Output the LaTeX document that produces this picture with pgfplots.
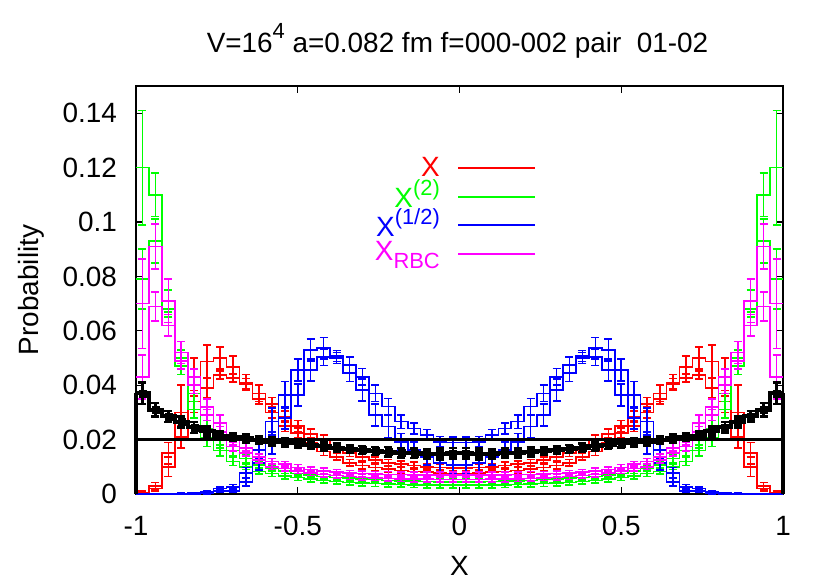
\documentclass[border=0pt]{standalone}
\usepackage{pgfplots}
\pgfplotsset{compat=1.18}
\usepackage{pgfplotstable}
\usepackage{fontspec}
\setmainfont{Liberation Sans}

\definecolor{gpred}{RGB}{255,0,0}
\definecolor{gpgreen}{RGB}{0,255,0}
\definecolor{gpblue}{RGB}{0,0,255}
\definecolor{gpmag}{RGB}{255,0,255}

% x = left edge of the bin, a/b = the two histograms, ea/eb = errors
\pgfplotstableread{
x a ea b eb
-1.00 0.0005 0.0005 0.0002 0.0003
-0.96 0.003 0.0012 0.002 0.001
-0.92 0.015 0.004 0.010 0.0035
-0.88 0.030 0.010 0.021 0.004
-0.84 0.043 0.007 0.034 0.004
-0.80 0.0487 0.006 0.039 0.0035
-0.76 0.050 0.004 0.0437 0.0015
-0.72 0.0468 0.004 0.0426 0.0015
-0.68 0.041 0.003 0.0405 0.002
-0.64 0.037 0.003 0.035 0.002
-0.60 0.033 0.0025 0.030 0.002
-0.56 0.0285 0.002 0.025 0.002
-0.52 0.025 0.002 0.0224 0.0018
-0.48 0.022 0.002 0.019 0.0015
-0.44 0.020 0.0018 0.0156 0.0015
-0.40 0.0175 0.0015 0.0137 0.0012
-0.36 0.015 0.0012 0.0115 0.0012
-0.32 0.0135 0.0012 0.0105 0.0012
-0.28 0.0125 0.0012 0.0098 0.0012
-0.24 0.0115 0.0012 0.0092 0.0012
-0.20 0.011 0.0012 0.0087 0.0012
-0.16 0.0105 0.0012 0.0083 0.0012
-0.12 0.010 0.0012 0.0080 0.0012
-0.08 0.0097 0.0012 0.0077 0.0012
-0.04 0.0095 0.0012 0.0075 0.0012
0.00 0.0095 0.0012 0.0075 0.0012
0.04 0.0097 0.0012 0.0077 0.0012
0.08 0.010 0.0012 0.0080 0.0012
0.12 0.0105 0.0012 0.0083 0.0012
0.16 0.011 0.0012 0.0087 0.0012
0.20 0.0115 0.0012 0.0092 0.0012
0.24 0.0125 0.0012 0.0098 0.0012
0.28 0.0135 0.0012 0.0105 0.0012
0.32 0.015 0.0012 0.0115 0.0012
0.36 0.0175 0.0015 0.0137 0.0012
0.40 0.020 0.0018 0.0156 0.0015
0.44 0.022 0.002 0.019 0.0015
0.48 0.025 0.002 0.0224 0.0018
0.52 0.0285 0.002 0.025 0.002
0.56 0.033 0.0025 0.030 0.002
0.60 0.037 0.003 0.035 0.002
0.64 0.041 0.003 0.0405 0.002
0.68 0.0468 0.004 0.0426 0.0015
0.72 0.050 0.004 0.0437 0.0015
0.76 0.0487 0.006 0.039 0.0035
0.80 0.043 0.007 0.034 0.004
0.84 0.030 0.010 0.021 0.004
0.88 0.015 0.004 0.010 0.0035
0.92 0.003 0.0012 0.002 0.001
0.96 0.0005 0.0005 0.0002 0.0003
1.00 0.0005 0.0005 0.0002 0.0003
}\redtab

\pgfplotstableread{
x a ea b eb
-1.00 0.120 0.021 0.079 0.011
-0.96 0.110 0.008 0.093 0.008
-0.92 0.071 0.004 0.068 0.003
-0.88 0.050 0.003 0.047 0.003
-0.84 0.037 0.003 0.031 0.003
-0.80 0.024 0.003 0.0205 0.003
-0.76 0.020 0.003 0.016 0.002
-0.72 0.016 0.002 0.012 0.0015
-0.68 0.013 0.0015 0.010 0.001
-0.64 0.0107 0.001 0.0083 0.001
-0.60 0.0095 0.001 0.0075 0.001
-0.56 0.0085 0.001 0.0066 0.001
-0.52 0.0075 0.001 0.0060 0.001
-0.48 0.0070 0.001 0.0055 0.001
-0.44 0.0065 0.001 0.0050 0.001
-0.40 0.0060 0.001 0.0046 0.001
-0.36 0.0058 0.001 0.0043 0.001
-0.32 0.0055 0.001 0.0040 0.001
-0.28 0.0053 0.001 0.0038 0.001
-0.24 0.0050 0.001 0.0036 0.001
-0.20 0.0048 0.001 0.0035 0.001
-0.16 0.0047 0.001 0.0034 0.001
-0.12 0.0046 0.001 0.0033 0.001
-0.08 0.0045 0.001 0.0032 0.001
-0.04 0.0045 0.001 0.0032 0.001
0.00 0.0045 0.001 0.0032 0.001
0.04 0.0045 0.001 0.0032 0.001
0.08 0.0046 0.001 0.0033 0.001
0.12 0.0047 0.001 0.0034 0.001
0.16 0.0048 0.001 0.0035 0.001
0.20 0.0050 0.001 0.0036 0.001
0.24 0.0053 0.001 0.0038 0.001
0.28 0.0055 0.001 0.0040 0.001
0.32 0.0058 0.001 0.0043 0.001
0.36 0.0060 0.001 0.0046 0.001
0.40 0.0065 0.001 0.0050 0.001
0.44 0.0070 0.001 0.0055 0.001
0.48 0.0075 0.001 0.0060 0.001
0.52 0.0085 0.001 0.0066 0.001
0.56 0.0095 0.001 0.0075 0.001
0.60 0.0107 0.001 0.0083 0.001
0.64 0.013 0.0015 0.010 0.001
0.68 0.016 0.002 0.012 0.0015
0.72 0.020 0.003 0.016 0.002
0.76 0.024 0.003 0.0205 0.003
0.80 0.037 0.003 0.031 0.003
0.84 0.050 0.003 0.047 0.003
0.88 0.071 0.004 0.068 0.003
0.92 0.110 0.008 0.093 0.008
0.96 0.120 0.021 0.079 0.011
1.00 0.120 0.021 0.079 0.011
}\greentab

\pgfplotstableread{
x a ea b eb
-1.00 0 0 0 0
-0.96 0 0 0 0
-0.92 0 0 0 0
-0.88 0.0002 0.0001 0 0
-0.84 0.0003 0.0002 0.0001 0.0001
-0.80 0.0008 0.0003 0.0003 0.0002
-0.76 0.002 0.0006 0.001 0.0004
-0.72 0.0025 0.001 0.0012 0.0006
-0.68 0.0077 0.002 0.0045 0.0015
-0.64 0.0162 0.003 0.0113 0.0025
-0.60 0.0266 0.005 0.0187 0.004
-0.56 0.0364 0.005 0.028 0.004
-0.52 0.0456 0.004 0.0364 0.004
-0.48 0.053 0.004 0.0456 0.004
-0.44 0.0536 0.004 0.0503 0.003
-0.40 0.0507 0.002 0.050 0.002
-0.36 0.0474 0.003 0.0444 0.003
-0.32 0.0431 0.003 0.0382 0.004
-0.28 0.037 0.003 0.029 0.004
-0.24 0.0321 0.003 0.0248 0.004
-0.20 0.0266 0.0025 0.0192 0.003
-0.16 0.0241 0.002 0.0162 0.003
-0.12 0.0217 0.002 0.0137 0.003
-0.08 0.0192 0.002 0.0113 0.003
-0.04 0.019 0.002 0.0107 0.003
0.00 0.019 0.002 0.0107 0.003
0.04 0.0192 0.002 0.0113 0.003
0.08 0.0217 0.002 0.0137 0.003
0.12 0.0241 0.002 0.0162 0.003
0.16 0.0266 0.0025 0.0192 0.003
0.20 0.0321 0.003 0.0248 0.004
0.24 0.037 0.003 0.029 0.004
0.28 0.0431 0.003 0.0382 0.004
0.32 0.0474 0.003 0.0444 0.003
0.36 0.0507 0.002 0.050 0.002
0.40 0.0536 0.004 0.0503 0.003
0.44 0.053 0.004 0.0456 0.004
0.48 0.0456 0.004 0.0364 0.004
0.52 0.0364 0.005 0.028 0.004
0.56 0.0266 0.005 0.0187 0.004
0.60 0.0162 0.003 0.0113 0.0025
0.64 0.0077 0.002 0.0045 0.0015
0.68 0.0025 0.001 0.0012 0.0006
0.72 0.002 0.0006 0.001 0.0004
0.76 0.0008 0.0003 0.0003 0.0002
0.80 0.0003 0.0002 0.0001 0.0001
0.84 0.0002 0.0001 0 0
0.88 0 0 0 0
0.92 0 0 0 0
0.96 0 0 0 0
1.00 0 0 0 0
}\bluetab

\pgfplotstableread{
x a ea b eb
-1.00 0.070 0.0165 0.043 0.008
-0.96 0.091 0.0083 0.069 0.0053
-0.92 0.071 0.008 0.062 0.004
-0.88 0.052 0.004 0.049 0.003
-0.84 0.043 0.003 0.040 0.003
-0.80 0.032 0.003 0.029 0.002
-0.76 0.026 0.003 0.0228 0.002
-0.72 0.020 0.002 0.0174 0.0015
-0.68 0.017 0.0015 0.015 0.001
-0.64 0.0137 0.001 0.0125 0.001
-0.60 0.012 0.001 0.010 0.001
-0.56 0.011 0.001 0.0094 0.001
-0.52 0.0098 0.001 0.0085 0.001
-0.48 0.009 0.001 0.0078 0.001
-0.44 0.0085 0.001 0.0072 0.001
-0.40 0.008 0.001 0.0068 0.001
-0.36 0.0077 0.001 0.0064 0.001
-0.32 0.0075 0.001 0.0061 0.001
-0.28 0.0073 0.001 0.0059 0.001
-0.24 0.0072 0.001 0.0057 0.001
-0.20 0.0071 0.001 0.0056 0.001
-0.16 0.0070 0.001 0.0055 0.001
-0.12 0.0070 0.001 0.0055 0.001
-0.08 0.0070 0.001 0.0054 0.001
-0.04 0.0070 0.001 0.0054 0.001
0.00 0.0070 0.001 0.0054 0.001
0.04 0.0070 0.001 0.0054 0.001
0.08 0.0070 0.001 0.0055 0.001
0.12 0.0070 0.001 0.0055 0.001
0.16 0.0071 0.001 0.0056 0.001
0.20 0.0072 0.001 0.0057 0.001
0.24 0.0073 0.001 0.0059 0.001
0.28 0.0075 0.001 0.0061 0.001
0.32 0.0077 0.001 0.0064 0.001
0.36 0.008 0.001 0.0068 0.001
0.40 0.0085 0.001 0.0072 0.001
0.44 0.009 0.001 0.0078 0.001
0.48 0.0098 0.001 0.0085 0.001
0.52 0.011 0.001 0.0094 0.001
0.56 0.012 0.001 0.010 0.001
0.60 0.0137 0.001 0.0125 0.001
0.64 0.017 0.0015 0.015 0.001
0.68 0.020 0.002 0.0174 0.0015
0.72 0.026 0.003 0.0228 0.002
0.76 0.032 0.003 0.029 0.002
0.80 0.043 0.003 0.040 0.003
0.84 0.052 0.004 0.049 0.003
0.88 0.071 0.008 0.062 0.004
0.92 0.091 0.0083 0.069 0.0053
0.96 0.070 0.0165 0.043 0.008
1.00 0.070 0.0165 0.043 0.008
}\magtab

\pgfplotstableread{
x y e
-1.00 0.037 0.004
-0.96 0.031 0.0025
-0.92 0.0285 0.002
-0.88 0.0265 0.002
-0.84 0.0245 0.002
-0.80 0.023 0.0018
-0.76 0.0215 0.0015
-0.72 0.021 0.0015
-0.68 0.0205 0.0015
-0.64 0.0198 0.0015
-0.60 0.0193 0.0015
-0.56 0.019 0.0015
-0.52 0.0186 0.0015
-0.48 0.018 0.0015
-0.44 0.0175 0.0015
-0.40 0.017 0.0015
-0.36 0.0165 0.0015
-0.32 0.0162 0.0015
-0.28 0.0158 0.0015
-0.24 0.0155 0.0018
-0.20 0.0152 0.0018
-0.16 0.015 0.0018
-0.12 0.0148 0.0018
-0.08 0.0147 0.002
-0.04 0.015 0.002
0.00 0.015 0.002
0.04 0.0147 0.002
0.08 0.0148 0.0018
0.12 0.015 0.0018
0.16 0.0152 0.0018
0.20 0.0155 0.0018
0.24 0.0158 0.0015
0.28 0.0162 0.0015
0.32 0.0165 0.0015
0.36 0.017 0.0015
0.40 0.0175 0.0015
0.44 0.018 0.0015
0.48 0.0186 0.0015
0.52 0.019 0.0015
0.56 0.0193 0.0015
0.60 0.0198 0.0015
0.64 0.0205 0.0015
0.68 0.021 0.0015
0.72 0.0215 0.0015
0.76 0.023 0.0018
0.80 0.0245 0.002
0.84 0.0265 0.002
0.88 0.0285 0.002
0.92 0.031 0.0025
0.96 0.037 0.004
1.00 0.037 0.004
}\blacktab

\pgfplotsset{
  hist/.style={#1, line width=1.6bp, const plot mark left, forget plot},
  errs/.style={draw=none, mark=none, forget plot,
    restrict x to domain=-1:0.99,
    error bars/.cd, y dir=both, y explicit, error mark=|,
    error bar style={draw=#1, line width=1.6bp, solid},
    error mark options={draw=#1, line width=1.6bp, mark size=4bp}},
}

\begin{document}
\fontsize{28}{34}\selectfont
\begin{tikzpicture}
\begin{axis}[
  at={(0,0)}, anchor=south west,
  scale only axis, width=647bp, height=408bp,
  clip=false,
  xmin=-1, xmax=1, ymin=0, ymax=0.15,
  xtick={-1,-0.5,0,0.5,1},
  ytick={0,0.02,0.04,0.06,0.08,0.1,0.12,0.14},
  scaled y ticks=false, scaled x ticks=false,
  /pgf/number format/assume math mode=true,
  yticklabel style={/pgf/number format/fixed, /pgf/number format/precision=2,
    anchor=east, inner sep=0pt, xshift=-19bp},
  xticklabel style={/pgf/number format/fixed, anchor=north, inner sep=0pt, yshift=-22bp},
  tick align=inside, major tick length=7bp,
  axis line style={line width=1.2bp},
  every tick/.style={black, line width=1.2bp},
  title={V=16\raisebox{14bp}{\fontsize{22}{22}\selectfont 4} a=0.082 fm f=000-002 pair\ \ 01-02},
  title style={at={(axis description cs:0.497,1.0686)}, anchor=base, inner sep=0pt},
  xlabel={X},
  xlabel style={at={(axis description cs:0.5,-0.200)}, anchor=base, inner sep=0pt},
  ylabel={Probability},
  ylabel style={at={(axis description cs:-0.162,0.5)}, anchor=center, inner sep=0pt},
]
% red
\addplot[hist=gpred] table[x=x, y=a] {\redtab};
\addplot[hist=gpred] table[x=x, y=b] {\redtab};
\addplot[errs=gpred] table[x expr=\thisrow{x}+0.02, y=a, y error=ea] {\redtab};
\addplot[errs=gpred] table[x expr=\thisrow{x}+0.02, y=b, y error=eb] {\redtab};
% green
\addplot[hist=gpgreen] table[x=x, y=a] {\greentab};
\addplot[hist=gpgreen] table[x=x, y=b] {\greentab};
\addplot[errs=gpgreen] table[x expr=\thisrow{x}+0.02, y=a, y error=ea] {\greentab};
\addplot[errs=gpgreen] table[x expr=\thisrow{x}+0.02, y=b, y error=eb] {\greentab};
% blue
\addplot[hist=gpblue] table[x=x, y=a] {\bluetab};
\addplot[hist=gpblue] table[x=x, y=b] {\bluetab};
\addplot[errs=gpblue] table[x expr=\thisrow{x}+0.02, y=a, y error=ea] {\bluetab};
\addplot[errs=gpblue] table[x expr=\thisrow{x}+0.02, y=b, y error=eb] {\bluetab};
% magenta
\addplot[hist=gpmag] table[x=x, y=a] {\magtab};
\addplot[hist=gpmag] table[x=x, y=b] {\magtab};
\addplot[errs=gpmag] table[x expr=\thisrow{x}+0.02, y=a, y error=ea] {\magtab};
\addplot[errs=gpmag] table[x expr=\thisrow{x}+0.02, y=b, y error=eb] {\magtab};
% black reference histogram
\addplot[black, line width=4bp, const plot mark left, forget plot] table[x=x, y=y] {\blacktab};
\addplot[black, line width=4bp, forget plot] coordinates {(-1,0) (-1,0.037)};
\addplot[black, line width=4bp, forget plot] coordinates {(1,0) (1,0.037)};
\addplot[black, only marks, mark=square*, mark size=3.5bp, forget plot,
  restrict x to domain=-1:0.99,
  error bars/.cd, y dir=both, y explicit, error mark=|,
  error bar style={line width=2.5bp},
  error mark options={line width=2.5bp, mark size=4bp}]
  table[x expr=\thisrow{x}+0.02, y=y, y error=e] {\blacktab};
\addplot[black, line width=3bp, forget plot] coordinates {(-1,0.02) (1,0.02)};
% key
\draw[gpred, line width=2bp] (axis description cs:0.4977,0.7998) -- (axis description cs:0.6167,0.7998);
\draw[gpgreen, line width=2bp] (axis description cs:0.4977,0.7289) -- (axis description cs:0.6167,0.7289);
\draw[gpblue, line width=2bp] (axis description cs:0.4977,0.6581) -- (axis description cs:0.6167,0.6581);
\draw[gpmag, line width=2bp] (axis description cs:0.4977,0.5873) -- (axis description cs:0.6167,0.5873);
\node[anchor=base east, inner sep=0pt, text=gpred] at (axis description cs:0.4699,0.777) {X};
\node[anchor=base east, inner sep=0pt, text=gpgreen] at (axis description cs:0.4699,0.701)
  {X\raisebox{12bp}{\fontsize{22}{22}\selectfont (2)}};
\node[anchor=base east, inner sep=0pt, text=gpblue] at (axis description cs:0.4699,0.630)
  {X\raisebox{12bp}{\fontsize{22}{22}\selectfont (1/2)}};
\node[anchor=base east, inner sep=0pt, text=gpmag] at (axis description cs:0.4699,0.5735)
  {X\raisebox{-8bp}{\fontsize{22}{22}\selectfont RBC}};
\end{axis}
\path (-136bp,-87bp) rectangle (694bp,494bp);
\end{tikzpicture}
\end{document}
